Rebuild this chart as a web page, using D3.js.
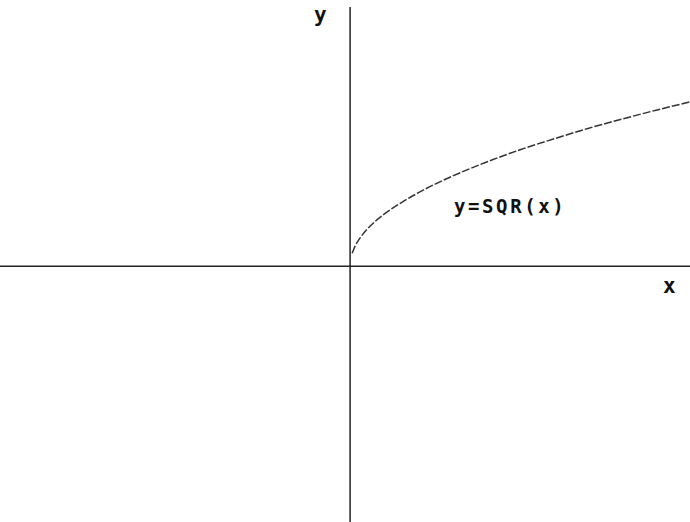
<!DOCTYPE html>
<html lang="en">
<head>
    <meta charset="UTF-8">
    <script src="https://cdn.jsdelivr.net/npm/d3@7/dist/d3.min.js"></script>
    <title>y=SQR(x)</title>
    <style>
        body { margin: 0; background: #fff; }
        text { font-family: "DejaVu Sans Mono", monospace; font-weight: bold; fill: #111; }
    </style>
</head>
<body>
<script>
    // points
    let xs = [0.06, 0.15, 0.3, 0.5, 0.75, 1, 1.5, 2, 2.5, 3, 4, 5, 6, 7, 8, 9, 10];
    let ys = [0.25, 0.39, 0.55, 0.71, 0.87, 1, 1.22, 1.41, 1.58, 1.73, 2, 2.24, 2.45, 2.65, 2.83, 3, 3.16];
    let curveLabel = "y=SQR(x)";
    let xLabel = "x", yLabel = "y";

    let width = 690, height = 522;

    let svg = d3.select("body").append("svg")
        .attr("width", width)
        .attr("height", height);

    // 比例尺
    let xScale = d3.scaleLinear().domain([-10.3, 10]).range([0, width]);
    let yScale = d3.scaleLinear().domain([-4.92, 5.12]).range([height, 0]);

    // 坐标轴
    svg.append("line")
        .attr("x1", 0).attr("x2", width)
        .attr("y1", yScale(0)).attr("y2", yScale(0))
        .attr("stroke", "#222").attr("stroke-width", 1.5);

    svg.append("line")
        .attr("x1", xScale(0)).attr("x2", xScale(0))
        .attr("y1", 7).attr("y2", height)
        .attr("stroke", "#222").attr("stroke-width", 1.5);

    // 曲线
    let line = d3.line()
        .x((d, i) => xScale(xs[i]))
        .y(d => yScale(d))
        .curve(d3.curveMonotoneX);

    svg.append("path")
        .attr("d", line(ys))
        .attr("fill", "none")
        .attr("stroke", "#333")
        .attr("stroke-width", 1.5)
        .attr("stroke-dasharray", "8,2");

    // 文字
    svg.append("text")
        .attr("x", 454).attr("y", 213)
        .attr("font-size", 19)
        .attr("letter-spacing", 2.6)
        .text(curveLabel);

    svg.append("text")
        .attr("x", 314).attr("y", 22)
        .attr("font-size", 21)
        .text(yLabel);

    svg.append("text")
        .attr("x", 663).attr("y", 293)
        .attr("font-size", 21)
        .text(xLabel);
</script>
</body>
</html>
